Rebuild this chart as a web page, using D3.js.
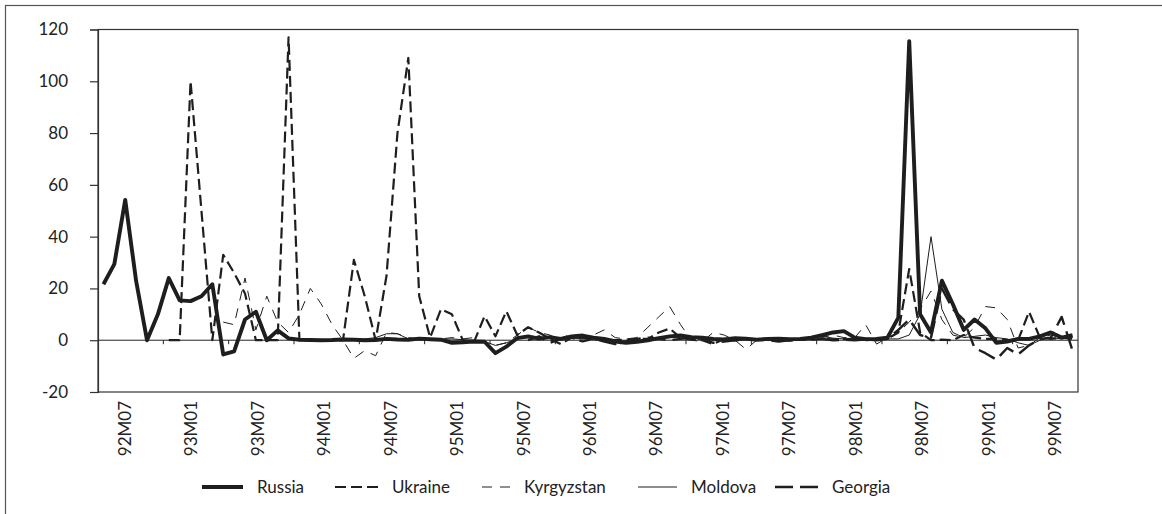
<!DOCTYPE html>
<html>
<head>
<meta charset="utf-8">
<script src="https://cdn.jsdelivr.net/npm/d3@7"></script>
<style>
  html, body { margin: 0; padding: 0; background: #fff; }
  svg { display: block; }
  text { font-family: Lato, "Open Sans", sans-serif; fill: #222; }
</style>
</head>
<body>
<svg id="chart" width="1162" height="514"></svg>
<script>
// Monthly categories, 92M05 .. 99M10
const months = [
  "92M05","92M06","92M07","92M08","92M09","92M10","92M11","92M12",
  "93M01","93M02","93M03","93M04","93M05","93M06","93M07","93M08","93M09","93M10","93M11","93M12",
  "94M01","94M02","94M03","94M04","94M05","94M06","94M07","94M08","94M09","94M10","94M11","94M12",
  "95M01","95M02","95M03","95M04","95M05","95M06","95M07","95M08","95M09","95M10","95M11","95M12",
  "96M01","96M02","96M03","96M04","96M05","96M06","96M07","96M08","96M09","96M10","96M11","96M12",
  "97M01","97M02","97M03","97M04","97M05","97M06","97M07","97M08","97M09","97M10","97M11","97M12",
  "98M01","98M02","98M03","98M04","98M05","98M06","98M07","98M08","98M09","98M10","98M11","98M12",
  "99M01","99M02","99M03","99M04","99M05","99M06","99M07","99M08","99M09","99M10"
];

const tickLabels = ["92M07","93M01","93M07","94M01","94M07","95M01","95M07","96M01",
                    "96M07","97M01","97M07","98M01","98M07","99M01","99M07"];

const yTicks = [-20, 0, 20, 40, 60, 80, 100, 120];

// Monthly % change by country (null = no data)
const russia = [
  21.6, 29.4, 54.2, 22.9, 0, 10, 24, 15.4,
  15.1, 17, 21.6, -5.5, -4.3, 8, 11, 0, 3.8, 0.7, 0.2, 0.1,
  0, 0.1, 0.3, 0.2, 0, 0.1, 0.5, 0.3, 0.2, 0.6, 0.4, 0.2,
  -1, -0.8, -0.5, -0.6, -5, -2.5, 0.8, 1.5, 0.6, 1.2, 0.5, 1.5,
  1.8, 1, 0.5, -0.5, -1, -0.6, 0, 0.8, 1.5, 1.8, 1.2, 1,
  0.5, 0.3, 0.8, 0.6, 0.2, 0.5, 0.6, 0.4, 0.5, 1, 2, 3,
  3.5, 1, 0.4, 0.5, 1, 8.7, 115.5, 10, 3, 23, 14, 4,
  8, 4.6, -1, -0.5, 0.5, 0.5, 1.5, 3, 1, 2
];

const ukraine = [
  null, null, null, null, null, null, 0, 0,
  100, 50, 0, 33, 26, 18, 0, 0, 0, 117, 0, 0,
  0, 0, 0, 31, 17, 0, 25, 80, 109, 17, 1, 12,
  10, 0, -1, 9.3, 1.5, 11.2, 2, 5, 3, 0.5, -1.5, 1,
  -0.5, 0.5, 0.3, 0, 0.2, 0.5, 0.5, 3, 4.5, 1, 0.2, 0,
  -1.5, 0.5, 0.4, 0.2, 0.3, 0.3, 0.2, 0.4, 0.3, 0.2, 0.5, 0.3,
  0.4, 0.5, 0.5, 0.5, 0.5, 3, 27.5, 3, 0, 0.2, 0, 2,
  1, 0.5, 0.5, 0, 0, 11, 1, 0.5, 1, 0.5
];

const kyrgyzstan = [
  null, null, null, null, null, null, null, null,
  null, null, null, 7, 6, 24, 4, 17, 7, 3, 10, 20,
  14, 6, 0, -7, -4, -6, 3, 2.5, 1, 0.5, 0.3, 0.5,
  1, 0.5, 1, -1, -2, -1, 2, 5, 3, 2, 0, 1,
  0.5, 2, 4, 1, 0.5, 1, 5, 9, 13, 6, 0, -0.5,
  3, 2, 0, -3.5, 0, 0.5, 0.5, -0.5, 0.2, 0.5, 1, 2,
  1, 1, 6, -1.5, 1, 3, 7, 12, 19, 8, 2, 1,
  5, 13, 12.5, 8, -3, -2, 1, 2, 1, 1
];

const moldova = [
  null, null, null, null, null, null, null, null,
  null, null, null, null, null, null, null, null, null, null, 0.5, 0.3,
  0.2, 0.3, 0.5, 0.3, 0.5, 1, 2.5, 2.5, 0.5, 0.3, 0.2, 0.3,
  0.5, 0.2, 0, -0.5, -2, -1, 0.5, 1, 0.5, 1, 0.3, 0.8,
  0.5, 0.2, -0.2, -0.5, -0.8, -0.3, 0.3, 0.6, 1, 1.2, 0.8, 0.5,
  0.2, 0, -0.3, 0.2, 0.3, 0.2, 0.1, 0.3, 0.5, 1, 1.5, 0.8,
  0.5, 0.3, 0.5, 0.3, 0.5, 0.5, 2, 10, 40, 12, 3, 1,
  1.5, 2, 1, 0.5, -1, -2, 0, 1, 0.5, 1
];

const georgia = [
  null, null, null, null, null, null, null, null,
  null, null, null, null, null, null, null, null, null, null, null, null,
  null, null, null, null, null, null, null, null, null, null, null, null,
  null, null, null, null, null, null, null, 0, 1.5, -1, 0.5, 2,
  1, 0.5, -0.5, -1.5, -0.5, 0.5, 1, 0.5, 0, 0.5, 1, 0.5,
  -1, -0.5, 0, 0.5, 0.3, 0, -0.5, 0, 0.3, 0.5, 0.5, 0,
  0.2, 0, 0.3, 0, 0.5, 4, 8, 2, 1, 20, 12, 8,
  -3, -5, -7.5, -3, -5.5, -2, 0.5, 1, 9, -4
];

const seriesNames = ["Russia", "Ukraine", "Kyrgyzstan", "Moldova", "Georgia"];
const seriesValues = [russia, ukraine, kyrgyzstan, moldova, georgia];
const seriesStyle = [
  { width: 3.9, dash: null },
  { width: 2.2, dash: "11,5" },
  { width: 1.0, dash: "10,8" },
  { width: 1.0, dash: null },
  { width: 2.4, dash: "18,7" }
];

const svg = d3.select("#chart");
const plot = { left: 98, right: 1078, top: 29.5, bottom: 392 };

// outer frame
svg.append("rect")
  .attr("x", 5.5).attr("y", 5.5)
  .attr("width", 1200).attr("height", 560)
  .attr("fill", "none").attr("stroke", "#555").attr("stroke-width", 1.2);

const x = d3.scaleBand().domain(months).range([plot.left, plot.right]).padding(0);
const y = d3.scaleLinear().domain([-20, 120]).range([plot.bottom, plot.top]);
const xLab = d3.scalePoint().domain(tickLabels).range([125, 1055]);

// plot area frame
svg.append("rect")
  .attr("x", plot.left).attr("y", plot.top)
  .attr("width", plot.right - plot.left).attr("height", plot.bottom - plot.top)
  .attr("fill", "none").attr("stroke", "#333").attr("stroke-width", 1.2);

// value axis
const yAxis = svg.append("g")
  .attr("transform", `translate(${plot.left},0)`)
  .call(d3.axisLeft(y).tickValues(yTicks).tickSize(8).tickPadding(22)
    .tickFormat(d => String(d)));
yAxis.select(".domain").attr("stroke", "#333").attr("stroke-width", 1.2);
yAxis.selectAll(".tick line").attr("stroke", "#333").attr("stroke-width", 1.2);
yAxis.selectAll(".tick text")
  .style("font-family", "Lato, sans-serif").style("font-size", "17px").attr("fill", "#222");

// category axis along the zero line, tick every six months
const tickCats = months.filter((m, i) => i % 6 === 0 && i > 0);
const xAxis = svg.append("g")
  .attr("transform", `translate(0,${y(0)})`)
  .call(d3.axisBottom(x).tickValues(tickCats).tickSize(4).tickFormat(""));
xAxis.select(".domain").attr("stroke", "#222").attr("stroke-width", 1).attr("d",
  `M${plot.left},0H${plot.right}`);
xAxis.selectAll(".tick")
  .attr("transform", d => `translate(${x(d)},0)`);
xAxis.selectAll(".tick line").attr("stroke", "#222").attr("stroke-width", 1);

// category labels below the plot, rotated
svg.append("g").selectAll("text")
  .data(tickLabels)
  .join("text")
  .attr("transform", d => `translate(${xLab(d)},${plot.bottom + 9}) rotate(-90)`)
  .attr("text-anchor", "end")
  .attr("dy", "0.35em")
  .style("font-size", "17px")
  .text(d => d);

// series lines
const line = d3.line()
  .defined(d => d.v !== null)
  .x(d => x(d.m) + x.bandwidth() / 2)
  .y(d => y(d.v));

const order = [3, 2, 4, 1, 0];
order.forEach(k => {
  const data = months.map((m, i) => ({ m, v: seriesValues[k][i] }));
  svg.append("path")
    .datum(data)
    .attr("fill", "none")
    .attr("stroke", "#1e1e1e")
    .attr("stroke-width", seriesStyle[k].width)
    .attr("stroke-dasharray", seriesStyle[k].dash)
    .attr("stroke-linejoin", "round")
    .attr("d", line);
});

// legend
const legendX = [202, 335, 482, 638, 775];
const legendLen = [41, 43, 28, 39, 43];
const legendY = 487;
const lg = svg.append("g");
seriesNames.forEach((name, k) => {
  lg.append("line")
    .attr("x1", legendX[k]).attr("x2", legendX[k] + legendLen[k])
    .attr("y1", legendY).attr("y2", legendY)
    .attr("stroke", "#1e1e1e")
    .attr("stroke-width", seriesStyle[k].width)
    .attr("stroke-dasharray", seriesStyle[k].dash);
  lg.append("text")
    .attr("x", legendX[k] + legendLen[k] + 14)
    .attr("y", legendY)
    .attr("dy", "0.35em")
    .style("font-size", "17px")
    .text(name);
});
</script>
</body>
</html>
